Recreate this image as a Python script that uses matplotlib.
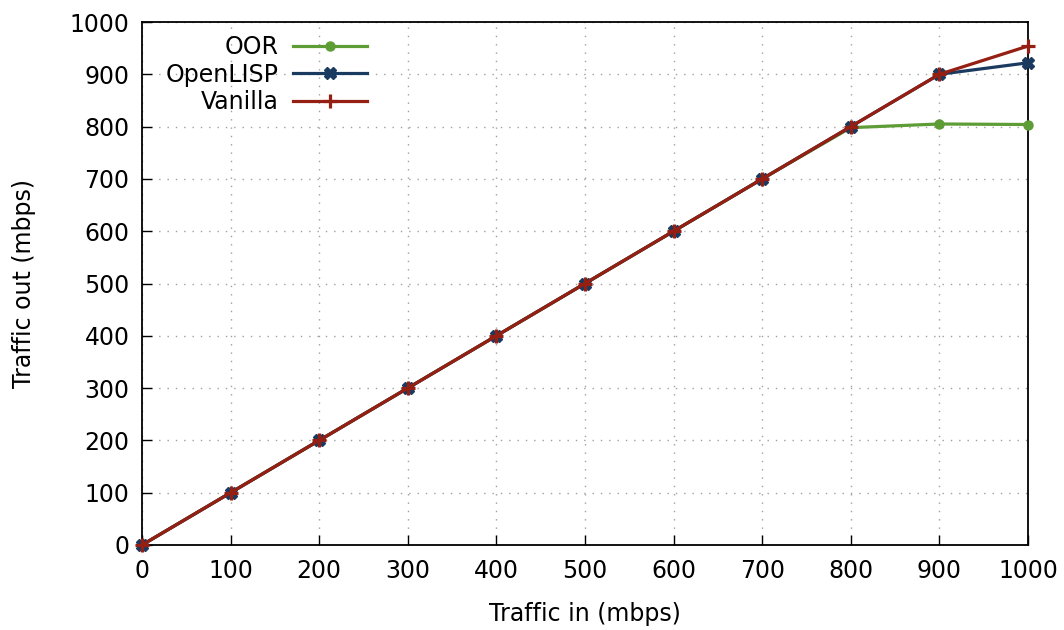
import matplotlib
matplotlib.use("Agg")
import matplotlib.pyplot as plt

x_in = [0, 100, 200, 300, 400, 500, 600, 700, 800, 900, 1000]
oor = [0, 100, 200, 300, 400, 500, 600, 700, 798, 805, 804]
openlisp = [0, 100, 200, 300, 400, 500, 600, 700, 800, 900, 922]
vanilla = [0, 100, 200, 300, 400, 500, 600, 700, 800, 900, 954]
xticks = [0, 100, 200, 300, 400, 500, 600, 700, 800, 900, 1000]
yticks = [0, 100, 200, 300, 400, 500, 600, 700, 800, 900, 1000]

plt.rcParams['font.family'] = ['DejaVu Sans']
fs = 17

fig = plt.figure(figsize=(10.64, 6.30), dpi=100)
ax = fig.add_axes([142/1064, 85/630, (1028-142)/1064, (545-22)/630])

ax.plot(x_in, oor, color='#5e9c35', lw=2.3, marker='o', ms=6.5, label='OOR', zorder=3, clip_on=False)
ax.plot(x_in, openlisp, color='#1b3a5f', lw=2.3, marker='X', ms=8.5, label='OpenLISP', zorder=4, clip_on=False)
ax.plot(x_in, vanilla, color='#951f12', lw=2.3, marker='+', ms=10, mew=2.3, label='Vanilla', zorder=5, clip_on=False)

ax.set_xlim(0, 1000)
ax.set_ylim(0, 1000)
ax.set_xticks(xticks)
ax.set_yticks(yticks)
ax.tick_params(direction='in', length=7, width=1, labelsize=fs, top=False, right=False)
ax.tick_params(axis='x', pad=10)
ax.tick_params(axis='y', pad=9)
ax.grid(True, color='#a0a0a0', linestyle=(0, (1, 5)), linewidth=1.0)
for s in ax.spines.values():
    s.set_linewidth(1.3)
ax.set_xlabel('Traffic in (mbps)', fontsize=fs, labelpad=14)
ax.set_ylabel('Traffic out (mbps)', fontsize=fs, labelpad=24)

leg = ax.legend(loc='upper right', bbox_to_anchor=(367/1064, (630-35)/630),
                bbox_transform=fig.transFigure, markerfirst=False, frameon=False,
                fontsize=fs, handlelength=3.13, labelspacing=0.15, handletextpad=0.63,
                borderaxespad=0, borderpad=0)
for t in leg.get_texts():
    t.set_ha('right')
leg._legend_box.align = 'right'

fig.savefig('out.png', dpi=100)
